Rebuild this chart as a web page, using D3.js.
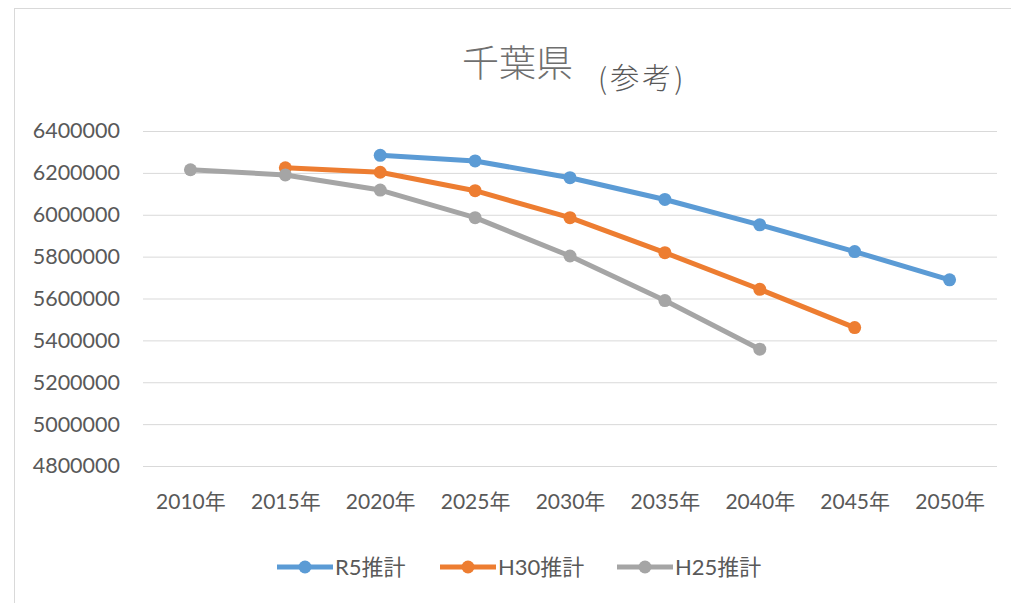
<!DOCTYPE html>
<html>
<head>
<meta charset="utf-8">
<script src="https://cdn.jsdelivr.net/npm/d3@7"></script>
<style>
  body { margin: 0; background: #fff; }
  text { font-family: Lato, "Noto Sans CJK JP", sans-serif; }
</style>
</head>
<body>
<div id="chart"></div>
<script>
const years = ["2010年", "2015年", "2020年", "2025年", "2030年", "2035年", "2040年", "2045年", "2050年"];
const r5 = [null, null, 6284000, 6257000, 6177000, 6073000, 5952000, 5824000, 5689000];
const h30 = [null, 6224000, 6203000, 6115000, 5986000, 5819000, 5644000, 5461000, null];
const h25 = [6215000, 6190000, 6118000, 5986000, 5803000, 5590000, 5358000, null, null];
const yTicks = [4800000, 5000000, 5200000, 5400000, 5600000, 5800000, 6000000, 6200000, 6400000];
const seriesNames = ["R5推計", "H30推計", "H25推計"];
const seriesColors = ["#5b9bd5", "#ed7d31", "#a5a5a5"];

const width = 1011, height = 603;
const svg = d3.select("#chart").append("svg")
  .attr("width", width)
  .attr("height", height);

// frame of the chart area
svg.append("rect")
  .attr("x", 14.5).attr("y", 8.5)
  .attr("width", 1100).attr("height", 700)
  .attr("fill", "none")
  .attr("stroke", "#d9d9d9");

const x = d3.scalePoint().domain(years).range([143, 997]).padding(0.5);
const y = d3.scaleLinear().domain([4800000, 6400000]).range([466, 131]);

// gridlines
svg.append("g")
  .selectAll("line")
  .data(yTicks)
  .join("line")
  .attr("x1", 143).attr("x2", 997)
  .attr("y1", d => y(d) + 0.5).attr("y2", d => y(d) + 0.5)
  .attr("stroke", "#d9d9d9");

// y axis labels
const yAxis = d3.axisLeft(y).tickValues(yTicks).tickSize(0).tickPadding(0).tickFormat(d3.format("d"));
svg.append("g")
  .attr("transform", "translate(120,0)")
  .call(yAxis)
  .call(g => g.select(".domain").remove())
  .call(g => g.selectAll("text")
    .attr("fill", "#595959")
    .style("font-size", "21.5px")
    .style("font-family", "Lato, sans-serif"));

// x axis labels
const xAxis = d3.axisBottom(x).tickSize(0).tickPadding(0);
svg.append("g")
  .attr("transform", "translate(0,494)")
  .call(xAxis)
  .call(g => g.select(".domain").remove())
  .call(g => g.selectAll("text")
    .attr("fill", "#595959")
    .style("font-size", "21px"));

// lines
const allSeries = [r5, h30, h25];
const line = d3.line()
  .defined(d => d != null)
  .x((d, i) => x(years[i]))
  .y(d => y(d));

allSeries.forEach((s, k) => {
  const g = svg.append("g");
  g.append("path")
    .datum(s)
    .attr("d", line)
    .attr("fill", "none")
    .attr("stroke", seriesColors[k])
    .attr("stroke-width", 5)
    .attr("stroke-linejoin", "round");
  g.selectAll("circle")
    .data(s.map((v, i) => ({ v, i })).filter(d => d.v != null))
    .join("circle")
    .attr("cx", d => x(years[d.i]))
    .attr("cy", d => y(d.v))
    .attr("r", 6.5)
    .attr("fill", seriesColors[k]);
});

// title
svg.append("text")
  .attr("x", 462).attr("y", 77)
  .attr("fill", "#6f6f6f")
  .style("font-family", "'Noto Sans CJK JP', sans-serif")
  .style("font-weight", 300)
  .style("font-size", "37px")
  .text("千葉県");
svg.append("text")
  .attr("x", 598).attr("y", 89)
  .attr("fill", "#595959")
  .style("font-family", "'Noto Sans CJK JP', sans-serif")
  .style("font-weight", 300)
  .style("font-size", "29px")
  .style("letter-spacing", "3px")
  .text("(参考)");

// legend
const legendX = [277, 440, 617];
const legend = svg.append("g").selectAll("g")
  .data(seriesNames)
  .join("g")
  .attr("transform", (d, i) => `translate(${legendX[i]},567)`);
legend.append("line")
  .attr("x1", 0).attr("x2", 56)
  .attr("stroke", (d, i) => seriesColors[i])
  .attr("stroke-width", 5);
legend.append("circle")
  .attr("cx", 28).attr("r", 6.5)
  .attr("fill", (d, i) => seriesColors[i]);
legend.append("text")
  .attr("x", 58).attr("y", 8)
  .attr("fill", "#595959")
  .style("font-size", "22px")
  .text(d => d);
</script>
</body>
</html>
